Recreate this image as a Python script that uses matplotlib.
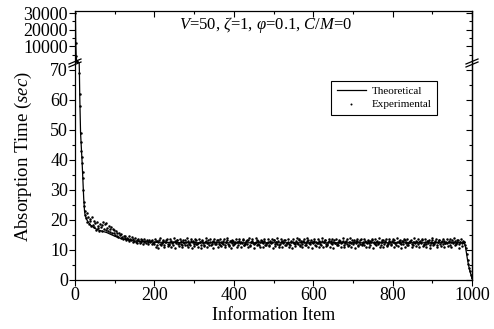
import numpy as np
import matplotlib
matplotlib.use('Agg')
import matplotlib.pyplot as plt
from matplotlib.lines import Line2D
from matplotlib.ticker import MultipleLocator

plt.rcParams['font.family'] = ['Liberation Serif', 'DejaVu Serif']
plt.rcParams['mathtext.fontset'] = 'custom'
plt.rcParams['mathtext.rm'] = 'Liberation Serif'
plt.rcParams['mathtext.it'] = 'Liberation Serif:italic'

# %% data
theo_x = [1, 2, 3, 4, 5, 6, 7, 8, 9, 10, 11, 12, 13, 14, 16, 18, 20, 21, 22, 23, 24, 25, 27,
          30, 35, 40, 50, 60, 70, 80, 90, 100, 110, 120, 135, 150, 175, 200, 250, 300, 400,
          500, 600, 700, 800, 900, 980, 983, 986, 989, 992, 995, 998, 1000]
theo_y = [30500, 12000, 4200, 1500, 550, 220, 120, 95, 82, 75, 70, 61, 55, 49, 44, 39, 33, 30,
          27, 25, 23, 22, 21, 20, 19, 18.2, 17.2, 16.6, 16.2, 15.8, 15.2, 14.6, 14.1, 13.7,
          13.3, 13.0, 12.8, 12.6, 12.5, 12.4, 12.4, 12.4, 12.4, 12.4, 12.4, 12.4, 12.4, 11.5,
          9.0, 6.5, 4.5, 2.8, 1.5, 0.6]

# steep start, item 1..24
exp_x_head = list(range(1, 25))
exp_y_head = [30200, 12300, 4000, 1400, 600, 230, 125, 96, 80, 74, 69, 62, 58, 49, 46, 43,
              41, 39, 36, 34, 30, 26, 24.5, 23]

# items 25, 27, ..., 199
exp_x_mid = list(range(25, 200, 2))
exp_y_mid = [21.8, 20.5, 22.3, 19.2, 21.0, 18.6, 20.2, 19.8, 17.9, 21.1, 18.4, 19.6, 17.6,
             18.9, 16.7, 19.3, 17.2, 18.1, 16.4, 18.8, 17.5, 16.2, 18.4, 19.2, 17.0, 18.6,
             16.8, 19.0, 17.4, 16.3, 18.0, 17.1, 16.0, 17.6, 15.8, 16.9, 15.6, 16.5,
             15.1, 16.2, 14.6, 15.5, 14.2, 15.8, 14.9, 13.9, 15.2, 14.4, 13.6, 14.8, 13.9,
             14.5, 13.2, 14.1, 13.5, 14.6, 12.9, 13.8, 13.3, 14.2, 12.8, 13.6, 13.1,
             13.9, 12.7, 13.4, 12.4, 13.7, 13.0, 12.3, 13.5, 12.8, 13.2, 12.1, 13.6, 12.6,
             13.1, 12.2, 13.4, 12.7, 12.0, 13.3, 12.5, 12.9, 11.9, 13.2, 12.4, 12.8]

# items 200, 203, ..., 980
exp_x_flat = list(range(200, 981, 3))
exp_y_flat = [
    12.1, 13.0, 11.7, 12.6, 13.3, 11.9, 12.4, 12.9, 11.5, 12.7, 13.2, 12.0, 11.8, 12.8, 13.1, 12.3, 11.6, 12.9, 12.5, 13.3,
    11.9, 12.2, 13.0, 11.7, 12.6, 12.4, 13.2, 11.8, 12.9, 12.1, 11.6, 13.1, 12.5, 12.0, 12.8, 13.3, 11.9, 12.3, 12.7, 11.5,
    13.0, 12.4, 11.8, 12.9, 12.2, 13.2, 11.7, 12.6, 12.0, 13.1, 12.5, 11.9, 12.8, 13.3, 12.1, 11.6, 12.7, 12.3, 13.0, 11.8,
    12.6, 13.2, 12.0, 11.7, 12.9, 12.4, 13.1, 11.9, 12.5, 12.8, 11.6, 13.0, 12.2, 12.7, 13.3, 11.8, 12.3, 12.9, 12.1, 13.2,
    11.7, 12.5, 13.0, 12.2, 11.9, 12.8, 13.3, 12.0, 11.6, 12.6, 12.9, 12.3, 13.1, 11.8, 12.4, 12.7, 11.5, 13.0, 12.2, 12.8,
    13.2, 11.9, 12.5, 12.1, 13.0, 11.7, 12.6, 12.9, 12.3, 13.3, 11.8, 12.4, 12.8, 12.0, 11.6, 13.1, 12.7, 12.2, 11.9, 12.9,
    12.4, 13.2, 11.8, 12.6, 12.1, 13.0, 12.5, 11.7, 12.9, 13.3, 12.2, 11.9, 12.7, 12.4, 13.1, 11.6, 12.8, 12.3, 13.0, 12.0,
    11.8, 12.9, 12.5, 13.2, 12.1, 11.7, 12.6, 13.0, 12.3, 11.9, 12.8, 13.3, 12.4, 12.0, 11.6, 12.7, 13.1, 12.2, 12.9, 11.8,
    12.5, 13.0, 12.1, 11.7, 12.8, 12.4, 13.2, 11.9, 12.6, 12.2, 13.1, 11.8, 12.7, 13.3, 12.0, 12.4, 11.6, 12.9, 12.5, 13.0,
    12.2, 11.8, 12.7, 13.2, 12.3, 11.9, 12.6, 13.0, 12.1, 12.8, 11.7, 12.5, 13.3, 12.0, 12.9, 11.8, 12.4, 13.1, 12.6, 11.9,
    12.8, 13.2, 12.2, 11.7, 12.5, 13.0, 12.4, 11.9, 12.9, 12.1, 13.3, 12.6, 11.8, 12.3, 12.8, 13.1, 12.0, 11.6, 12.7, 12.4,
    13.0, 11.9, 12.5, 12.9, 12.2, 13.2, 11.8, 12.6, 12.1, 13.1, 12.4, 11.7, 12.8, 13.3, 12.3, 12.0, 12.9, 11.8, 12.6, 13.2,
    12.1, 12.7, 11.9, 13.0, 12.4, 12.8, 12.2, 13.1, 11.8, 12.6, 13.3, 12.3, 12.9, 12.0, 12.5, 13.2, 11.9, 12.7, 12.4, 13.0,
    12.6]

# items 201, 204, ..., 979 (the wider scatter of the band)
exp_x_flat2 = list(range(201, 980, 3))
exp_y_flat2 = [
    13.6, 11.0, 12.9, 10.8, 13.9, 11.6, 12.2, 13.4, 10.9, 12.6, 13.8, 11.3, 12.0, 13.5, 11.1, 12.8, 14.0, 10.7, 12.4, 13.2,
    11.2, 13.7, 12.1, 10.9, 13.3, 11.5, 12.7, 13.9, 11.0, 12.3, 13.6, 10.8, 12.9, 11.4, 13.8, 12.0, 11.1, 13.5, 12.6, 10.7,
    13.4, 11.3, 12.8, 13.9, 10.9, 12.2, 13.7, 11.6, 12.5, 10.8, 13.6, 11.9, 13.2, 11.0, 12.7, 13.8, 11.4, 12.1, 13.5, 10.9,
    12.6, 13.9, 11.2, 12.9, 10.8, 13.4, 11.7, 12.3, 13.8, 11.0, 12.8, 13.5, 10.9, 12.4, 13.7, 11.5, 12.0, 13.3, 11.1, 13.9,
    11.3, 12.7, 13.6, 10.8, 12.2, 13.9, 11.6, 12.9, 11.0, 13.4, 12.5, 10.9, 13.8, 11.8, 12.3, 13.5, 11.2, 12.8, 13.7, 10.7,
    13.3, 11.4, 12.6, 13.9, 11.0, 12.1, 13.6, 10.9, 12.8, 13.4, 11.5, 12.4, 13.8, 11.1, 12.7, 10.8, 13.5, 12.2, 11.3, 13.9,
    12.0, 13.7, 11.2, 12.9, 10.9, 13.5, 11.7, 12.4, 13.9, 11.0, 12.6, 13.3, 10.8, 12.8, 13.6, 11.4, 12.2, 13.8, 11.1, 12.5,
    13.9, 10.9, 12.7, 13.4, 11.3, 12.1, 13.7, 11.0, 12.9, 13.5, 10.8, 12.4, 13.8, 11.6, 12.6, 13.2, 11.1, 12.8, 13.9, 10.9,
    12.3, 13.6, 11.4, 12.8, 13.9, 11.0, 12.5, 13.3, 10.8, 12.9, 13.7, 11.2, 12.1, 13.5, 11.7, 12.7, 13.8, 10.9, 12.4, 13.4,
    11.1, 12.9, 13.8, 10.8, 12.6, 13.5, 11.5, 12.2, 13.9, 11.0, 12.8, 13.3, 10.9, 12.5, 13.7, 11.3, 12.0, 13.6, 11.8, 12.9,
    13.7, 11.0, 12.4, 13.9, 11.4, 12.7, 13.2, 10.8, 12.9, 13.6, 11.1, 12.3, 13.8, 11.6, 12.6, 13.4, 10.9, 12.8, 13.9, 11.2,
    12.5, 13.5, 10.9, 12.7, 13.8, 11.3, 12.1, 13.6, 11.0, 12.9, 13.3, 10.8, 12.4, 13.9, 11.5, 12.6, 13.7, 11.1, 12.8, 13.4,
    11.2, 12.9, 13.6, 10.9, 12.3, 13.8, 11.4, 12.7, 13.5, 11.0, 12.5, 13.9, 11.7, 12.2, 13.4, 10.8, 12.8, 13.7, 11.3, 12.6]

# final drop
exp_x_tail = [981, 983, 985, 987, 989, 991, 993, 995, 997, 999, 1000]
exp_y_tail = [12.6, 11.8, 10.5, 8.5, 6.8, 5.2, 4.0, 2.9, 1.8, 0.9, 0.5]

exp_x = exp_x_head + exp_x_mid + exp_x_flat + exp_x_flat2 + exp_x_tail
exp_y = exp_y_head + exp_y_mid + exp_y_flat + exp_y_flat2 + exp_y_tail

# %% figure
W, H = 494, 329
fig = plt.figure(figsize=(W / 100, H / 100), dpi=100)
L, R = 75 / W, 472 / W
y_top, y_brk, y_bot = 11, 63, 280
ax_top = fig.add_axes([L, 1 - y_brk / H, R - L, (y_brk - y_top) / H])
ax_bot = fig.add_axes([L, 1 - y_bot / H, R - L, (y_bot - y_brk) / H])

# upper segment only gets the part of the curve above the break
ax_top.plot(theo_x[:11], theo_y[:11], color='black', lw=0.9)
ax_top.plot(exp_x_head[:10], exp_y_head[:10], linestyle='none', marker='.', ms=3.6, mew=0,
            color='black')
ax_bot.plot(theo_x, theo_y, color='black', lw=0.9, label='Theoretical')
ax_bot.plot(exp_x, exp_y, linestyle='none', marker='.', ms=3.6, mew=0, color='black',
            label='Experimental')

for ax in (ax_top, ax_bot):
    ax.set_xlim(0, 1000)
    ax.xaxis.set_major_locator(MultipleLocator(200))
    ax.xaxis.set_minor_locator(MultipleLocator(100))
    for s in ax.spines.values():
        s.set_linewidth(0.9)

ax_top.set_ylim(73, 31300)
ax_top.set_yticks([10000, 20000, 30000])
ax_top.yaxis.set_minor_locator(MultipleLocator(5000))
ax_top.spines['bottom'].set_visible(False)
ax_top.tick_params(axis='x', which='both', bottom=False, top=True, labelbottom=False,
                   direction='in')

ax_bot.set_ylim(0, 72.3)
ax_bot.yaxis.set_major_locator(MultipleLocator(10))
ax_bot.yaxis.set_minor_locator(MultipleLocator(5))
ax_bot.spines['top'].set_visible(False)
ax_bot.tick_params(axis='x', which='both', top=False, direction='out')

# left ticks outside, right ticks inside
for ax in (ax_top, ax_bot):
    ax.tick_params(which='major', length=4, width=0.8, labelsize=13, pad=1)
    ax.tick_params(which='minor', length=2.5, width=0.8)
    ax.tick_params(axis='y', which='both', left=True, right=False, direction='out')
    axr = ax.secondary_yaxis('right')
    axr.set_yticks(ax.get_yticks())
    axr.yaxis.set_minor_locator(ax.yaxis.get_minor_locator())
    axr.tick_params(which='both', direction='in', labelright=False, width=0.8)
    axr.tick_params(which='major', length=4)
    axr.tick_params(which='minor', length=2.5)
    axr.spines['right'].set_linewidth(0.9)
ax_top.set_ylim(73, 31300)
ax_bot.set_ylim(0, 72.3)

ax_bot.set_xlabel('Information Item', fontsize=13, labelpad=2)
fig.text(23 / W, 1 - 157 / H, 'Absorption Time ($sec$)', rotation=90, fontsize=13.5,
         ha='center', va='center')

fig.text(266 / W, 1 - 25 / H, r'$V$=50, $\zeta$=1, $\varphi$=0.1, $C/M$=0', fontsize=12,
         ha='center', va='center')

ax_bot.legend(loc='upper right', bbox_to_anchor=(437 / W, 1 - 81 / H),
              bbox_transform=fig.transFigure, fontsize=8, frameon=True, fancybox=False,
              edgecolor='black', framealpha=1, handlelength=2.6, borderpad=0.5,
              labelspacing=0.3, handletextpad=0.5, borderaxespad=0, markerscale=0.8)
ax_bot.get_legend().get_frame().set_linewidth(0.8)

# axis break marks
for xb in (L, R):
    for dy in (-1.5, 1.5):
        x0, x1 = xb - 6 / W, xb + 6 / W
        yc = 1 - (y_brk + dy) / H
        fig.add_artist(Line2D([x0, x1], [yc - 2.5 / H, yc + 2.5 / H], color='black',
                              lw=0.9, transform=fig.transFigure))

fig.savefig('out.png', dpi=100)
